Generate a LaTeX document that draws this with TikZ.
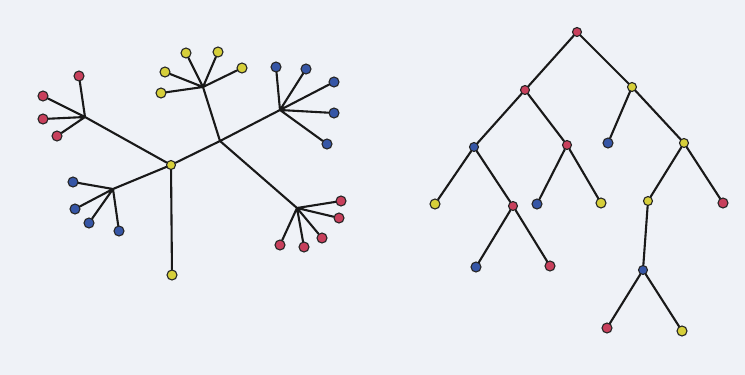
\documentclass[tikz,border=0pt]{standalone}
\definecolor{bg}{HTML}{EFF2F7}
\definecolor{dred}{HTML}{C8405C}
\definecolor{dyel}{HTML}{D6CF3A}
\definecolor{dblu}{HTML}{3656A6}
\tikzset{
  dot/.style={circle,draw=black!85,line width=1.1pt,inner sep=0pt,minimum size=10pt},
  sdot/.style={dot,minimum size=9pt},
  R/.style={dot,fill=dred}, Y/.style={dot,fill=dyel}, B/.style={dot,fill=dblu},
  sR/.style={sdot,fill=dred}, sY/.style={sdot,fill=dyel}, sB/.style={sdot,fill=dblu},
  edge/.style={draw=black!90,line width=2.1pt,line cap=round}
}
\begin{document}
\begin{tikzpicture}[x=1pt,y=-1pt]
\fill[bg] (0,0) rectangle (745,375);
\useasboundingbox (0,0) rectangle (745,375);
% ---------- left tree ----------
\node[sY] (A) at (171,165) {};
\coordinate (Bj) at (220,141);
\coordinate (rj) at (85,117);
\coordinate (yj) at (203,87);
\coordinate (bj) at (280,110);
\coordinate (lbj) at (113,189);
\coordinate (rrj) at (297,208);
\node[Y] (ybot) at (172,275) {};
\node[R] (r1) at (79,76) {};
\node[R] (r2) at (43,96) {};
\node[R] (r3) at (43,119) {};
\node[R] (r4) at (57,136) {};
\node[Y] (y1) at (186,53) {};
\node[Y] (y2) at (218,52) {};
\node[Y] (y3) at (242,68) {};
\node[Y] (y4) at (165,72) {};
\node[Y] (y5) at (161,93) {};
\node[B] (b1) at (276,67) {};
\node[B] (b2) at (306,69) {};
\node[B] (b3) at (334,82) {};
\node[B] (b4) at (334,113) {};
\node[B] (b5) at (327,144) {};
\node[B] (lb1) at (73,182) {};
\node[B] (lb2) at (75,209) {};
\node[B] (lb3) at (89,223) {};
\node[B] (lb4) at (119,231) {};
\node[R] (rr1) at (341,201) {};
\node[R] (rr2) at (339,218) {};
\node[R] (rr3) at (322,238) {};
\node[R] (rr4) at (304,247) {};
\node[R] (rr5) at (280,245) {};
\path[edge] (rj) -- (A) (A) -- (Bj) (A) -- (lbj) (A) -- (ybot)
  (Bj) -- (yj) (Bj) -- (bj) (Bj) -- (rrj)
  (rj) -- (r1) (rj) -- (r2) (rj) -- (r3) (rj) -- (r4)
  (yj) -- (y1) (yj) -- (y2) (yj) -- (y3) (yj) -- (y4) (yj) -- (y5)
  (bj) -- (b1) (bj) -- (b2) (bj) -- (b3) (bj) -- (b4) (bj) -- (b5)
  (lbj) -- (lb1) (lbj) -- (lb2) (lbj) -- (lb3) (lbj) -- (lb4)
  (rrj) -- (rr1) (rrj) -- (rr2) (rrj) -- (rr3) (rrj) -- (rr4) (rrj) -- (rr5);
% ---------- right tree ----------
\node[sR] (root) at (577,32) {};
\node[sR] (n1) at (525,90) {};
\node[sY] (n2) at (632,87) {};
\node[sB] (n3) at (474,147) {};
\node[sR] (n4) at (567,145) {};
\node[B] (l1) at (608,143) {};
\node[sY] (n5) at (684,143) {};
\node[Y] (l2) at (435,204) {};
\node[sR] (n6) at (513,206) {};
\node[B] (l3) at (537,204) {};
\node[Y] (l4) at (601,203) {};
\node[sY] (n7) at (648,201) {};
\node[R] (l5) at (723,203) {};
\node[B] (l6) at (476,267) {};
\node[R] (l7) at (550,266) {};
\node[sB] (n8) at (643,270) {};
\node[R] (l8) at (607,328) {};
\node[Y] (l9) at (682,331) {};
\path[edge] (root) -- (n1) (root) -- (n2) (n1) -- (n3) (n1) -- (n4)
  (n2) -- (l1) (n2) -- (n5) (n3) -- (l2) (n3) -- (n6)
  (n4) -- (l3) (n4) -- (l4) (n5) -- (n7) (n5) -- (l5)
  (n6) -- (l6) (n6) -- (l7) (n7) -- (n8) (n8) -- (l8) (n8) -- (l9);
\end{tikzpicture}
\end{document}
